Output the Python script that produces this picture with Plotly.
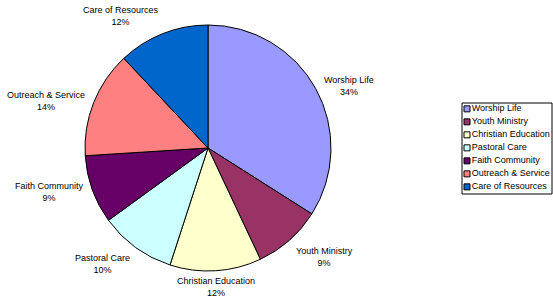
import math
import plotly.graph_objects as go

categories = ["Worship Life", "Youth Ministry", "Christian Education", "Pastoral Care",
              "Faith Community", "Outreach & Service", "Care of Resources"]
values = [34, 9, 12, 10, 9, 14, 12]
colors = ["#9999FF", "#993366", "#FFFFCC", "#CCFFFF", "#660066", "#FF8080", "#0066CC"]

W, H = 553, 297
FONT = "Arial, Liberation Sans, sans-serif"

# pie geometry (pixels)
cx, cy, R = 208, 148, 123

fig = go.Figure()
fig.add_trace(go.Pie(
    labels=categories, values=values, sort=False, direction="clockwise", rotation=0,
    marker=dict(colors=colors, line=dict(color="black", width=1)),
    textinfo="none", hoverinfo="label+percent", showlegend=False,
    domain=dict(x=[(cx - R) / W, (cx + R) / W], y=[(H - cy - R) / H, (H - cy + R) / H]),
))

# data labels computed from the slice mid-angles
total = sum(values)
cum = 0
annotations = []
for name, v in zip(categories, values):
    mid = (cum + v / 2) / total * 2 * math.pi
    cum += v
    sx, cyu = math.sin(mid), math.cos(mid)
    rr = R + 6
    px = cx + (rr + 2) * sx
    py = cy - rr * cyu
    xa = "left" if sx > 0.3 else ("right" if sx < -0.3 else "center")
    ya = "bottom" if cyu > 0.6 else ("top" if cyu < -0.6 else "middle")
    if ya == "top":
        py = min(py, H - 22)  # keep two-line label inside the page
    annotations.append(dict(
        x=px / W, y=1 - py / H, xref="paper", yref="paper", xanchor=xa, yanchor=ya,
        text=f"{name}<br>{round(v / total * 100)}%", showarrow=False, align="center",
        font=dict(family=FONT, size=9, color="black"), borderpad=0,
    ))

# legend drawn as a scatter on its own axes
n = len(categories)
fig.add_trace(go.Scatter(
    x=[0] * n, y=list(range(n)), mode="markers+text", text=categories,
    textposition="middle right", xaxis="x2", yaxis="y2", showlegend=False,
    marker=dict(symbol="square", size=6, color=colors, line=dict(color="black", width=1)),
    textfont=dict(family=FONT, size=9, color="black"), hoverinfo="skip", cliponaxis=False,
))

lx0, lx1, ly0, ly1 = 462, 552, 103, 194
fig.update_layout(
    width=W, height=H, margin=dict(l=0, r=0, t=0, b=0),
    paper_bgcolor="white", plot_bgcolor="rgba(0,0,0,0)",
    annotations=annotations,
    xaxis2=dict(domain=[lx0 / W, lx1 / W], range=[-5, 85], visible=False, fixedrange=True),
    yaxis2=dict(domain=[1 - ly1 / H, 1 - ly0 / H], range=[n - 0.5 + 0.05, -0.5 + 0.05],
                visible=False, fixedrange=True, anchor="x2"),
    shapes=[dict(type="rect", xref="paper", yref="paper", x0=lx0 / W, x1=lx1 / W,
                 y0=1 - ly1 / H, y1=1 - ly0 / H, line=dict(color="black", width=1))],
    font=dict(family=FONT),
)
fig.update_layout(xaxis2_anchor="y2")
fig.write_html("out.html", config={"displayModeBar": False},
               post_script="document.body.style.margin='0px';document.body.style.overflow='hidden';")
